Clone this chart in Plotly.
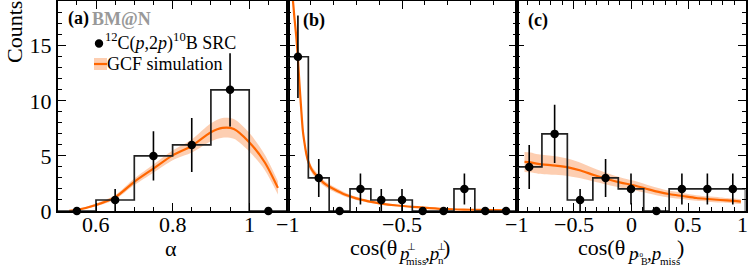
import plotly.graph_objects as go

# ---------------- data ----------------
# Panel (a): alpha
a_edges = [0.5, 0.6, 0.7, 0.8, 0.9, 1.0, 1.1]
a_counts = [0, 1, 5, 6, 11, 0]
a_err = [0, 1.0, 2.24, 2.45, 3.32, 0]
a_gcf_x = [0.53, 0.55, 0.60, 0.65, 0.70, 0.75, 0.80, 0.85, 0.90, 0.93, 0.96, 1.00, 1.04, 1.075]
a_gcf_y = [0.02, 0.10, 0.55, 1.25, 2.65, 3.85, 5.05, 5.90, 7.15, 7.55, 7.45, 6.25, 4.45, 2.10]
a_gcf_band = [0.01, 0.03, 0.12, 0.2, 0.3, 0.38, 0.45, 0.6, 0.82, 0.9, 0.9, 0.85, 0.7, 0.6]

# Panel (b): cos(theta p_miss_perp, p_n_perp)
b_edges = [-1.0, -0.909, -0.818, -0.727, -0.636, -0.545, -0.455, -0.364, -0.273, -0.182, -0.091, 0.0]
b_counts = [14, 3, 0, 2, 1, 1, 0, 0, 2, 0, 0]
b_err = [3.74, 1.73, 0, 1.41, 1.0, 1.0, 0, 0, 1.41, 0, 0]
b_gcf_x = [-0.980, -0.970, -0.962, -0.955, -0.948, -0.941, -0.933, -0.926, -0.918, -0.911, -0.900,
           -0.889, -0.868, -0.845, -0.817, -0.780, -0.744, -0.700, -0.671, -0.640, -0.598, -0.520,
           -0.453, -0.380, -0.307, -0.230, -0.162, -0.100, -0.031]
b_gcf_y = [20.0, 17.6, 15.9, 14.0, 11.6, 9.5, 7.3, 6.2, 5.2, 4.6, 4.0,
           3.6, 3.1, 2.6, 2.2, 1.8, 1.45, 1.15, 1.0, 0.85, 0.7, 0.5,
           0.38, 0.27, 0.18, 0.13, 0.10, 0.08, 0.06]
b_gcf_band = [0.3, 0.3, 0.3, 0.3, 0.3, 0.32, 0.34, 0.35, 0.35, 0.35, 0.33,
              0.3, 0.28, 0.26, 0.24, 0.21, 0.18, 0.15, 0.13, 0.12, 0.1, 0.07,
              0.05, 0.04, 0.03, 0.02, 0.02, 0.02, 0.02]

# Panel (c): cos(theta p_10B, p_miss)
c_edges = [-1.0, -0.778, -0.556, -0.333, -0.111, 0.111, 0.333, 0.556, 0.778, 1.0]
c_counts = [4, 7, 1, 3, 2, 0, 2, 2, 2]
c_err = [2.0, 2.65, 1.0, 1.73, 1.41, 0, 1.41, 1.41, 1.41]
c_gcf_x = [-0.93, -0.878, -0.81, -0.66, -0.54, -0.44, -0.325, -0.208, -0.09, 0.01,
           0.12, 0.23, 0.34, 0.45, 0.57, 0.67, 0.78, 0.90, 0.96]
c_gcf_y = [4.45, 4.42, 4.27, 4.12, 3.94, 3.67, 3.27, 2.9, 2.58, 2.36,
           2.06, 1.76, 1.52, 1.36, 1.18, 1.09, 1.0, 0.91, 0.85]
c_gcf_band = [0.9, 0.9, 0.88, 0.84, 0.78, 0.7, 0.6, 0.52, 0.47, 0.43,
              0.39, 0.35, 0.31, 0.28, 0.26, 0.24, 0.23, 0.22, 0.22]

a_ticks = [0.6, 0.8, 1.0]
a_ticktext = ["0.6", "0.8", "1"]
b_ticks = [-1, -0.5]
b_ticktext = ["\u22121", "\u22120.5"]
c_ticks = [-1, -0.5, 0, 0.5, 1]
c_ticktext = ["\u22121", "\u22120.5", "0", "0.5", "1"]
y_ticks = [0, 5, 10, 15]
y_range = [0, 19.06]

# ---------------- style ----------------
W, H = 748, 275
MT, MB = 1, 64
PH = H - MT - MB
SERIF = "Liberation Serif"
ORANGE = "rgb(255,102,0)"
BAND = "rgba(250,120,40,0.36)"
HISTC = "#222222"


def px(x):
    return x / W


def py(y):
    return (H - MB - y) / PH


fig = go.Figure()


def add_panel(edges, counts, err, gx, gy, gb, xa, ya):
    # GCF band
    up = [y + b for y, b in zip(gy, gb)]
    lo = [y - b for y, b in zip(gy, gb)]
    fig.add_trace(go.Scatter(x=gx, y=up, mode="lines", xaxis=xa, yaxis=ya,
                             line=dict(width=0, shape="spline", smoothing=0.8),
                             showlegend=False, hoverinfo="skip"))
    fig.add_trace(go.Scatter(x=gx, y=lo, mode="lines", xaxis=xa, yaxis=ya, fill="tonexty",
                             fillcolor=BAND, line=dict(width=0, shape="spline", smoothing=0.8),
                             showlegend=False, hoverinfo="skip"))
    fig.add_trace(go.Scatter(x=gx, y=gy, mode="lines", xaxis=xa, yaxis=ya,
                             line=dict(color=ORANGE, width=2.2, shape="spline", smoothing=0.8),
                             showlegend=False))
    # histogram outline
    hx, hy = [edges[0]], [0]
    for i, v in enumerate(counts):
        hx += [edges[i], edges[i + 1]]
        hy += [v, v]
    hx.append(edges[-1])
    hy.append(0)
    fig.add_trace(go.Scatter(x=hx, y=hy, mode="lines", xaxis=xa, yaxis=ya,
                             line=dict(color=HISTC, width=1.7), showlegend=False,
                             hoverinfo="skip"))
    centers = [(edges[i] + edges[i + 1]) / 2 for i in range(len(counts))]
    fig.add_trace(go.Scatter(x=centers, y=counts, mode="markers", xaxis=xa, yaxis=ya,
                             marker=dict(color="black", size=8.5),
                             error_y=dict(type="data", array=err, visible=True,
                                          color="black", thickness=1.6, width=0),
                             cliponaxis=False, showlegend=False))


add_panel(a_edges, a_counts, a_err, a_gcf_x, a_gcf_y, a_gcf_band, "x", "y")
add_panel(b_edges, b_counts, b_err, b_gcf_x, b_gcf_y, b_gcf_band, "x2", "y2")
add_panel(c_edges, c_counts, c_err, c_gcf_x, c_gcf_y, c_gcf_band, "x3", "y3")

tickfont = dict(family=SERIF, size=22, color="black")
common_x = dict(showgrid=False, zeroline=False, showline=True, linecolor="black", linewidth=1.6,
                ticks="inside", ticklen=8, tickwidth=1.2, tickcolor="black", mirror="allticks",
                showticklabels=False, fixedrange=True, tickmode="array")
common_y = dict(showgrid=False, zeroline=False, showline=True, linecolor="black", linewidth=1.6,
                ticks="inside", ticklen=8, tickwidth=1.2, tickcolor="black", mirror="allticks",
                range=y_range, tickmode="array", tickvals=y_ticks,
                minor=dict(dtick=1, tick0=0, ticklen=4, ticks="inside", tickcolor="black",
                           tickwidth=1, showgrid=False),
                tickfont=tickfont, fixedrange=True, ticklabeloverflow="allow")

d1, d2, d3, d4 = px(57.7), px(287.5), px(516.5), px(745.5)
fig.update_layout(
    width=W, height=H, margin=dict(l=0, r=0, t=MT, b=MB),
    plot_bgcolor="white", paper_bgcolor="white", showlegend=False,
    xaxis=dict(common_x, domain=[d1, d2], range=[a_edges[0], a_edges[-1]], anchor="y",
               tickvals=a_ticks,
               minor=dict(dtick=0.05, tick0=0.5, ticklen=4, ticks="inside", tickcolor="black", tickwidth=1)),
    xaxis2=dict(common_x, domain=[d2, d3], range=[b_edges[0], b_edges[-1]], anchor="y2",
                tickvals=b_ticks,
                minor=dict(dtick=0.1, tick0=-1, ticklen=4, ticks="inside", tickcolor="black", tickwidth=1)),
    xaxis3=dict(common_x, domain=[d3, d4], range=[c_edges[0], c_edges[-1]], anchor="y3",
                tickvals=c_ticks,
                minor=dict(dtick=0.1, tick0=-1, ticklen=4, ticks="inside", tickcolor="black", tickwidth=1)),
    yaxis=dict(common_y, domain=[0, 1], anchor="x"),
    yaxis2=dict(common_y, domain=[0, 1], anchor="x2", showticklabels=False),
    yaxis3=dict(common_y, domain=[0, 1], anchor="x3", showticklabels=False),
)

ann = []


def txt(x, y, text, size, xanchor="left", color="black", bold=False, italic=False, angle=0,
        yanchor="middle", xref="paper", xshift=0):
    t = text
    if italic:
        t = "<i>" + t + "</i>"
    if bold:
        t = "<b>" + t + "</b>"
    ann.append(dict(x=px(x) if xref == "paper" else x, y=py(y), xref=xref, yref="paper", text=t,
                    showarrow=False, xanchor=xanchor, yanchor=yanchor, textangle=angle,
                    xshift=xshift, font=dict(family=SERIF, size=size, color=color), borderpad=0))


# x tick labels, placed on the axes' own scales
for xa, vals, labels in (("x", a_ticks, a_ticktext), ("x2", b_ticks, b_ticktext),
                         ("x3", c_ticks, c_ticktext)):
    for i, (v, lab) in enumerate(zip(vals, labels)):
        shift = -3 if (xa == "x3" and i == len(vals) - 1) else 0
        txt(v, 224.5, lab, 22, xanchor="center", xref=xa, xshift=shift)

# y title
txt(14, 0, "Counts", 22, xanchor="center", angle=-90, yanchor="top")
# panel labels
txt(67, 18.5, "(a)", 18, bold=True)
txt(91, 18.5, "BM@N", 18, bold=True, color="#999999")
txt(302, 20, "(b)", 18, bold=True)
txt(527, 20, "(c)", 18, bold=True)
# legend
txt(104, 42, "<sup>12</sup>C(<i>p</i>,2<i>p</i>)<sup>10</sup>B SRC", 18)
txt(106, 64, "GCF simulation", 18)

# x titles
txt(171, 248, "\u03b1", 22, xanchor="center")
# panel b title
txt(349, 247, "cos(\u03b8", 22)
txt(397, 253, "p", 19, italic=True)
txt(406, 246.5, "\u22a5", 10)
txt(405, 261, "miss", 11)
txt(424, 253, ",<i>p</i>", 19)
txt(436, 246.5, "\u22a5", 10)
txt(437, 260, "n", 11)
txt(442, 247, ")", 22)
# panel c title
txt(577, 247, "cos(\u03b8", 22)
txt(626, 253, "p", 19, italic=True)
txt(635, 255.4, "10", 7)
txt(640, 261.5, "B", 10)
txt(646, 253, ",<i>p</i>", 19)
txt(659, 261.3, "miss", 11)
txt(676, 247, ")", 22)

shapes = [
    dict(type="circle", xref="paper", yref="paper", xsizemode="pixel", ysizemode="pixel",
         xanchor=px(99), yanchor=py(43.5), x0=-4.2, x1=4.2, y0=-4.2, y1=4.2,
         fillcolor="black", line=dict(width=0)),
    dict(type="rect", xref="paper", yref="paper", x0=px(94), x1=px(107), y0=py(70), y1=py(58),
         fillcolor=BAND, line=dict(width=0)),
    dict(type="line", xref="paper", yref="paper", x0=px(94), x1=px(107), y0=py(64), y1=py(64),
         line=dict(color=ORANGE, width=2.2)),
]
fig.update_layout(annotations=ann, shapes=shapes)

fig.write_html("out.html", config={"displayModeBar": False},
               post_script="document.body.style.margin='0px';")
